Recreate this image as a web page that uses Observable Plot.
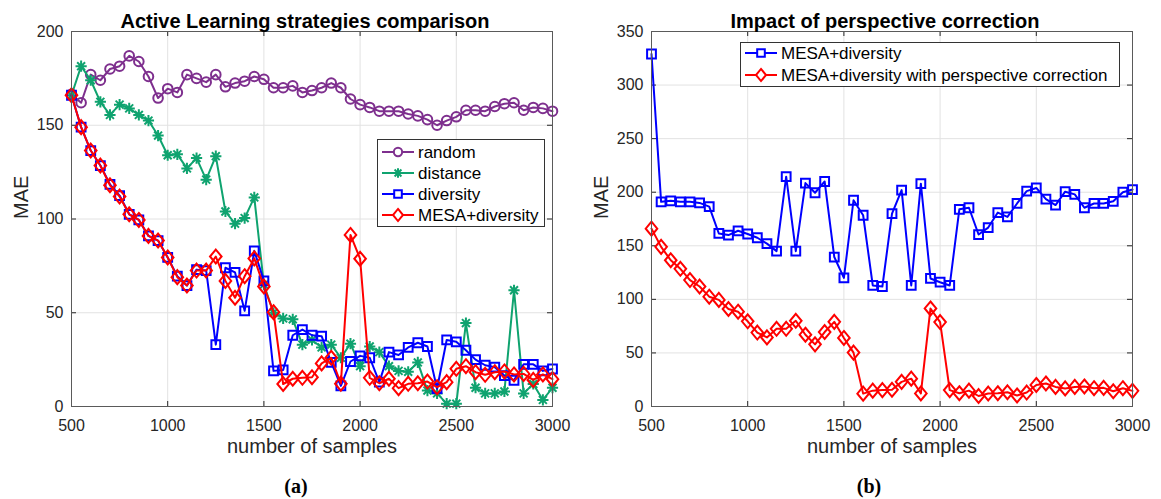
<!DOCTYPE html>
<html>
<head>
<meta charset="utf-8">
<script src="https://cdn.jsdelivr.net/npm/d3@7"></script>
<script src="https://cdn.jsdelivr.net/npm/@observablehq/plot@0.6"></script>
<style>
  body { margin: 0; background: #fff; }
  #wrap { position: relative; width: 1161px; height: 499px; overflow: hidden; font-family: "Liberation Sans", Arial, sans-serif; }
  .panel { position: absolute; top: 0; }
  .legend { position: absolute; }
  .cap { position: absolute; top: 474px; width: 60px; margin-left: -30px; text-align: center;
         font-family: "Liberation Serif", serif; font-weight: bold; font-size: 20px; line-height: 24px; color: #000; }
</style>
</head>
<body>
<div id="wrap">
  <div class="panel" id="pa" style="left:0px"></div>
  <div class="panel" id="pb" style="left:580px"></div>
  <div class="cap" style="left:296px">(a)</div>
  <div class="cap" style="left:869px">(b)</div>
</div>
<script>
// ---------- data ----------
const samples = [500,550,600,650,700,750,800,850,900,950,1000,1050,1100,1150,1200,1250,1300,1350,1400,1450,
                 1500,1550,1600,1650,1700,1750,1800,1850,1900,1950,2000,2050,2100,2150,2200,2250,2300,2350,2400,2450,
                 2500,2550,2600,2650,2700,2750,2800,2850,2900,2950,3000];

const random = [166.5,162,177,174,180,181.5,187,184,176,164.5,169.5,167.5,177,175,173,177,170.5,172.5,173.5,176,
                174.5,170,170,171,167.5,168.5,170,172.5,170,164,161,159.5,157.5,157.5,157.5,156,155,153,150,152.5,
                154.5,158,158,157.5,160,161.5,162,158,159.5,159,157.5];

const distance = [166,181.5,174,162.5,155.5,161,159,155.5,152.5,144.5,134,134.5,127,132.5,121,133.5,104,97.5,100.5,111.5,
                  65,50,47,46.5,33,35.5,31.5,33,26,33.5,21.5,32,29,21.5,19,18.5,23.5,8.5,7,1.5,
                  1.5,44.5,10,7,7,8,62,7,12,3.5,10];

const diversity = [166,149,136.5,128.5,118.5,112.5,102.5,99.5,91,88.5,79.5,69.5,64.5,73,72.5,33,74,71.5,51,83,
                   67,19,19.5,38,41,38,37.5,23.5,11,24,27,26,13,29,27.5,31.5,34,32,9.5,35.5,
                   34.5,30,25,22,21,16.5,14,22.5,22.5,19,20];

const mesa = [166,149,136.5,128.5,118,112,102.5,99.5,91,88.5,79.5,69,64.5,72.5,72.5,80,67,58,69.5,79,
              64,50.3,12,14.8,15.3,15.6,23,26,12.2,91.5,78.8,15.3,12.4,14.8,9.8,12.1,12.4,13.3,10.3,13,
              20.1,21.5,18.3,16.9,18.3,18.7,17.1,17.4,14.2,17.1,14.6];

const mesaNoCorrection = [329,191,192,191,191,190,186.5,161.5,160,164,161,157.5,152,145,214.5,145,208.5,199.5,210,139.5,
                          120,192.5,178.5,113,112,180,202,113,208,119.5,116,113,184,185.5,160.5,167,181,177,189.5,201,
                          204,193.5,188,200.5,198,185.5,189.5,189.5,191.5,200,202.5];

const xTicks = [500,1000,1500,2000,2500,3000];
const yTicksA = [0,50,100,150,200];
const yTicksB = [0,50,100,150,200,250,300,350];

const titleA = "Active Learning strategies comparison";
const titleB = "Impact of perspective correction";
const xLabel = "number of samples";
const yLabel = "MAE";

const namesA = ["random","distance","diversity","MESA+diversity"];
const namesB = ["MESA+diversity","MESA+diversity with perspective correction"];

// ---------- styles ----------
const C_PURPLE = "#7e2f8e", C_GREEN = "#0fa36f", C_BLUE = "#0000ff", C_RED = "#ff0000";

function rad(s){ return Math.sqrt(s/Math.PI); }
const symSquare = {draw(c,s){const r=rad(s); c.moveTo(-r,-r); c.lineTo(r,-r); c.lineTo(r,r); c.lineTo(-r,r); c.closePath();}};
const symDiamond = {draw(c,s){const r=rad(s); c.moveTo(0,-1.2*r); c.lineTo(r,0); c.lineTo(0,1.2*r); c.lineTo(-r,0); c.closePath();}};
const symStar = {draw(c,s){const r=rad(s), d=r*Math.SQRT1_2;
  c.moveTo(-r,0); c.lineTo(r,0); c.moveTo(0,-r); c.lineTo(0,r);
  c.moveTo(-d,-d); c.lineTo(d,d); c.moveTo(-d,d); c.lineTo(d,-d);}};
const symCircle = {draw(c,s){const r=rad(s); c.moveTo(r,0); c.arc(0,0,r,0,2*Math.PI);}};

const styleCircle = {symbol: symCircle, r: 4.8, color: C_PURPLE};
const styleStar = {symbol: symStar, r: 5.6, color: C_GREEN};
const styleSquare = {symbol: symSquare, r: 4.4, color: C_BLUE};
const styleDiamond = {symbol: symDiamond, r: 5.8, color: C_RED};

function rows(values){ return samples.map((x,i) => ({x, y: values[i]})); }

function seriesMarks(values, st){
  const data = rows(values);
  return [
    Plot.line(data, {x:"x", y:"y", stroke: st.color, strokeWidth: 2}),
    Plot.dot(data, {x:"x", y:"y", stroke: st.color, strokeWidth: 2, symbol: st.symbol, r: st.r, fill: "none"})
  ];
}

const PW = 481, PH = 375;
const fmt = d => String(d);

function panel(title, yDomain, yTicks, series){
  return Plot.plot({
    width: 580, height: 460,
    marginLeft: 71, marginRight: 28, marginTop: 31, marginBottom: 54,
    style: {fontFamily: "'Liberation Sans', Arial, sans-serif", color: "#262626", background: "white", overflow: "visible"},
    x: {domain: [500, 3000]},
    y: {domain: yDomain},
    marks: [
      Plot.gridX(xTicks, {stroke: "#e2e2e2", strokeOpacity: 1}),
      Plot.gridY(yTicks, {stroke: "#e2e2e2", strokeOpacity: 1}),
      Plot.tickX(xTicks, {x: d => d, insetTop: PH - 5, stroke: "#262626"}),
      Plot.tickX(xTicks, {x: d => d, insetBottom: PH - 5, stroke: "#262626"}),
      Plot.tickY(yTicks, {y: d => d, insetRight: PW - 5, stroke: "#262626"}),
      Plot.tickY(yTicks, {y: d => d, insetLeft: PW - 5, stroke: "#262626"}),
      Plot.axisX(xTicks, {tickSize: 0, tickPadding: 13, fontSize: 16, label: null, fill: "#262626", tickFormat: fmt}),
      Plot.axisY(yTicks, {tickSize: 0, tickPadding: 8, fontSize: 16, label: null, fill: "#262626", tickFormat: fmt}),
      ...series,
      Plot.frame({stroke: "#5a5a5a"}),
      Plot.text([title], {text: d => d, frameAnchor: "top", dx: -7, dy: -18, fontSize: 20, fontWeight: "bold", fill: "#000"}),
      Plot.text([xLabel], {text: d => d, frameAnchor: "bottom", dy: 46, fontSize: 20, fill: "#262626"}),
      Plot.text([yLabel], {text: d => d, frameAnchor: "left", dx: -50, rotate: -90, fontSize: 20, fill: "#262626"})
    ]
  });
}

document.getElementById("pa").appendChild(panel(titleA, [0, 200], yTicksA, [
  ...seriesMarks(random, styleCircle),
  ...seriesMarks(distance, styleStar),
  ...seriesMarks(diversity, styleSquare),
  ...seriesMarks(mesa, styleDiamond)
]));

document.getElementById("pb").appendChild(panel(titleB, [0, 350], yTicksB, [
  ...seriesMarks(mesaNoCorrection, styleSquare),
  ...seriesMarks(mesa, styleDiamond)
]));

// ---------- legends ----------
function legend(left, top, width, height, names, styles, rowStart, rowStep){
  const ns = "http://www.w3.org/2000/svg";
  const svg = document.createElementNS(ns, "svg");
  svg.setAttribute("width", width); svg.setAttribute("height", height);
  svg.setAttribute("class", "legend");
  svg.style.left = left + "px"; svg.style.top = top + "px";
  const rect = document.createElementNS(ns, "rect");
  rect.setAttribute("x", 0.5); rect.setAttribute("y", 0.5);
  rect.setAttribute("width", width - 1); rect.setAttribute("height", height - 1);
  rect.setAttribute("fill", "white"); rect.setAttribute("stroke", "#333");
  svg.appendChild(rect);
  names.forEach((name, i) => {
    const st = styles[i];
    const cy = rowStart + i * rowStep;
    const line = document.createElementNS(ns, "line");
    line.setAttribute("x1", 5); line.setAttribute("x2", 37);
    line.setAttribute("y1", cy); line.setAttribute("y2", cy);
    line.setAttribute("stroke", st.color); line.setAttribute("stroke-width", 2);
    svg.appendChild(line);
    const p = d3.path();
    st.symbol.draw(p, Math.PI * st.r * st.r * 0.75);
    const path = document.createElementNS(ns, "path");
    path.setAttribute("d", p.toString());
    path.setAttribute("transform", `translate(21,${cy})`);
    path.setAttribute("fill", "white"); path.setAttribute("stroke", st.color); path.setAttribute("stroke-width", 2);
    svg.appendChild(path);
    const t = document.createElementNS(ns, "text");
    t.setAttribute("x", 41); t.setAttribute("y", cy); t.setAttribute("dy", "0.35em");
    t.setAttribute("font-size", 17); t.setAttribute("fill", "#000");
    t.setAttribute("font-family", "'Liberation Sans', Arial, sans-serif");
    t.textContent = name;
    svg.appendChild(t);
  });
  document.getElementById("wrap").appendChild(svg);
}

legend(377, 139, 168, 88, namesA, [styleCircle, styleStar, styleSquare, styleDiamond], 13, 21);
legend(740, 42, 380, 45, namesB, [styleSquare, styleDiamond], 11, 22);
</script>
</body>
</html>
